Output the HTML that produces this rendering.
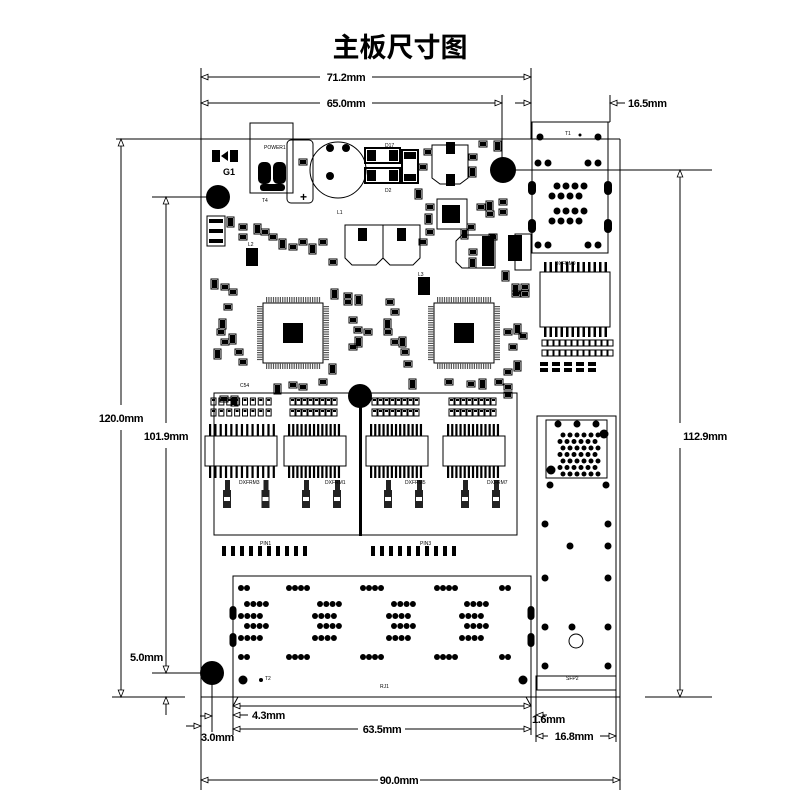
<!DOCTYPE html>
<html><head><meta charset="utf-8"><style>
html,body{margin:0;padding:0;background:#fff;}
svg{display:block;font-family:"Liberation Sans","Noto Sans CJK SC",sans-serif;}
.d{font-size:11px;font-weight:bold;fill:#000;letter-spacing:-0.4px;}
.s{font-size:5px;fill:#000;}
</style></head><body>
<svg id="sv" width="800" height="800" viewBox="0 0 800 800" xmlns="http://www.w3.org/2000/svg">
<defs>
<marker id="a" viewBox="0 0 10 10" refX="10" refY="5" markerWidth="9" markerHeight="7" orient="auto-start-reverse" markerUnits="userSpaceOnUse"><path d="M0,1 L10,5 L0,9 Z" fill="#fff" stroke="#000" stroke-width="1.2"/></marker>
</defs>
<rect width="800" height="800" fill="#fff"/>
<text x="400" y="57" text-anchor="middle" font-size="27" font-weight="bold" font-family="'Noto Sans CJK SC',sans-serif">主板尺寸图</text>

<g stroke="#000" stroke-width="1" fill="none">
<line x1="201" y1="68" x2="201" y2="790"/>
<line x1="531" y1="68" x2="531" y2="139"/>
<line x1="620" y1="139" x2="620" y2="790"/>
<line x1="502" y1="95" x2="502" y2="170"/>
<line x1="610" y1="95" x2="610" y2="122"/>
<line x1="531" y1="122" x2="610" y2="122"/>
<line x1="116" y1="139" x2="620" y2="139"/>
<line x1="112" y1="697" x2="185" y2="697"/>
<line x1="201" y1="697" x2="620" y2="697"/>
<line x1="645" y1="697" x2="712" y2="697"/>
<line x1="152" y1="197" x2="218" y2="197"/>
<line x1="152" y1="673" x2="212" y2="673"/>
<line x1="503" y1="170" x2="712" y2="170"/>
<line x1="212" y1="673" x2="212" y2="732"/>
<line x1="233" y1="697" x2="233" y2="735"/>
<line x1="531" y1="697" x2="531" y2="735"/>
<line x1="536" y1="690" x2="536" y2="742"/>
<line x1="616" y1="690" x2="616" y2="742"/>
<line x1="233" y1="706" x2="238" y2="697"/>
<line x1="531" y1="706" x2="526" y2="697"/>
<line x1="201" y1="77" x2="320" y2="77" marker-start="url(#a)"/><line x1="372" y1="77" x2="531" y2="77" marker-end="url(#a)"/>
<line x1="201" y1="103" x2="320" y2="103" marker-start="url(#a)"/><line x1="372" y1="103" x2="502" y2="103" marker-end="url(#a)"/>
<line x1="515" y1="103" x2="531" y2="103" marker-end="url(#a)"/>
<line x1="625" y1="103" x2="610" y2="103" marker-end="url(#a)"/>
<line x1="121" y1="139" x2="121" y2="405" marker-start="url(#a)"/><line x1="121" y1="430" x2="121" y2="697" marker-end="url(#a)"/>
<line x1="166" y1="197" x2="166" y2="423" marker-start="url(#a)"/><line x1="166" y1="448" x2="166" y2="673" marker-end="url(#a)"/>
<line x1="166" y1="715" x2="166" y2="697" marker-end="url(#a)"/>
<line x1="680" y1="170" x2="680" y2="423" marker-start="url(#a)"/><line x1="680" y1="448" x2="680" y2="697" marker-end="url(#a)"/>
<line x1="233" y1="706" x2="531" y2="706" marker-start="url(#a)" marker-end="url(#a)"/>
<line x1="248" y1="715" x2="233" y2="715" marker-end="url(#a)"/>
<line x1="200" y1="716" x2="212" y2="716" marker-end="url(#a)"/>
<line x1="186" y1="726" x2="201" y2="726" marker-end="url(#a)"/>
<line x1="233" y1="729" x2="358" y2="729" marker-start="url(#a)"/><line x1="405" y1="729" x2="531" y2="729" marker-end="url(#a)"/>
<line x1="547" y1="715" x2="536" y2="715" marker-end="url(#a)"/>
<line x1="536" y1="736" x2="548" y2="736" marker-start="url(#a)"/><line x1="600" y1="736" x2="616" y2="736" marker-end="url(#a)"/>
<line x1="201" y1="780" x2="378" y2="780" marker-start="url(#a)"/><line x1="420" y1="780" x2="620" y2="780" marker-end="url(#a)"/>
</g>
<text class="d" x="346" y="81" text-anchor="middle">71.2mm</text>
<text class="d" x="346" y="107" text-anchor="middle">65.0mm</text>
<text class="d" x="628" y="107">16.5mm</text>
<text class="d" x="121" y="422" text-anchor="middle">120.0mm</text>
<text class="d" x="166" y="440" text-anchor="middle">101.9mm</text>
<text class="d" x="705" y="440" text-anchor="middle">112.9mm</text>
<text class="d" x="130" y="661">5.0mm</text>
<text class="d" x="252" y="719">4.3mm</text>
<text class="d" x="201" y="741">3.0mm</text>
<text class="d" x="382" y="733" text-anchor="middle">63.5mm</text>
<text class="d" x="532" y="723">1.6mm</text>
<text class="d" x="574" y="740" text-anchor="middle">16.8mm</text>
<text class="d" x="399" y="784" text-anchor="middle">90.0mm</text>

<g stroke="#000" fill="none" stroke-width="1">
<rect x="250" y="123" width="43" height="70"/>
<rect x="287" y="140" width="26" height="63" rx="4"/>
<circle cx="338" cy="170" r="28"/>
<rect x="365" y="148" width="35" height="15" stroke-width="2"/>
<rect x="365" y="168" width="35" height="15" stroke-width="2"/>
<rect x="402" y="150" width="16" height="33" stroke-width="2"/>
<path d="M432,145 H468 V178 L460,184 H440 L432,178 Z"/>
<path d="M345,225 H383 V258 L376,265 H352 L345,258 Z"/>
<path d="M383,225 H420 V258 L413,265 H390 L383,258 Z"/>
<rect x="437" y="199" width="30" height="30"/>
<path d="M462,235 H495 V268 H462 L456,262 V241 Z"/>
<rect x="263" y="303" width="60" height="60"/>
<rect x="434" y="303" width="60" height="60"/>
<rect x="540" y="272" width="70" height="55"/>
<rect x="532" y="122" width="76" height="131"/>
<rect x="214" y="393" width="303" height="142"/>
<rect x="537" y="416" width="79" height="274"/>
<rect x="546" y="420" width="61" height="58"/>
<rect x="233" y="576" width="298" height="121"/>
<rect x="536" y="676" width="80" height="14"/>
<circle cx="576" cy="641" r="7"/>
<rect x="205" y="436" width="72" height="30"/>
<rect x="284" y="436" width="62" height="30"/>
<rect x="366" y="436" width="62" height="30"/>
<rect x="443" y="436" width="62" height="30"/>
<rect x="515" y="234" width="16" height="36"/>
<rect x="207" y="216" width="18" height="30"/>
</g>
<g fill="#000">
<circle cx="218" cy="197" r="12"/>
<circle cx="503" cy="170" r="13"/>
<circle cx="360" cy="396" r="12"/>
<circle cx="212" cy="673" r="12"/>
<rect x="283" y="323" width="20" height="20"/>
<rect x="454" y="323" width="20" height="20"/>
<rect x="359" y="396" width="3" height="140"/>
<rect x="212" y="150" width="8" height="12"/><rect x="230" y="150" width="8" height="12"/>
<path d="M221,156 L228,151 L228,161 Z"/>
<rect x="258" y="162" width="13" height="22" rx="5"/><rect x="273" y="162" width="13" height="22" rx="5"/>
<rect x="260" y="184" width="25" height="7" rx="3"/>
<rect x="367" y="150" width="9" height="11"/><rect x="389" y="150" width="9" height="11"/>
<rect x="367" y="170" width="9" height="11"/><rect x="389" y="170" width="9" height="11"/>
<rect x="404" y="152" width="12" height="7"/><rect x="404" y="174" width="12" height="7"/>
<rect x="446" y="142" width="9" height="12"/><rect x="446" y="174" width="9" height="12"/>
<rect x="358" y="228" width="9" height="13"/><rect x="397" y="228" width="9" height="13"/>
<rect x="442" y="205" width="18" height="18"/>
<rect x="482" y="236" width="12" height="30"/>
<rect x="418" y="277" width="12" height="18"/><rect x="246" y="248" width="12" height="18"/>
<rect x="209" y="219" width="14" height="4"/><rect x="209" y="229" width="14" height="4"/><rect x="209" y="239" width="14" height="4"/>
<rect x="508" y="235" width="14" height="26"/>
<circle cx="330" cy="148" r="4"/><circle cx="330" cy="176" r="4"/><circle cx="346" cy="148" r="4"/>
</g>
<g id="gen"></g>
<g class="s">
<text x="229" y="175" font-size="9" font-weight="bold" text-anchor="middle">G1</text>
<text x="264" y="149">POWER1</text><text x="262" y="202">T4</text>
<text x="385" y="147">D17</text><text x="385" y="192">D2</text>
<text x="337" y="214">L1</text><text x="260" y="545">PIN1</text><text x="420" y="545">PIN3</text>
<text x="239" y="484">DXFRM3</text><text x="325" y="484">DXFRM1</text><text x="405" y="484">DXFRM5</text><text x="487" y="484">DXFRM7</text>
<text x="555" y="265">DXFRM9</text><text x="565" y="135">T1</text>
<text x="380" y="688">RJ1</text><text x="265" y="680">T2</text><text x="566" y="680">SFP2</text>
<text x="240" y="387">C54</text><text x="418" y="276">L3</text><text x="248" y="246">L2</text>
</g>
<text x="300" y="201" font-size="12" font-weight="bold">+</text>
</svg>
<script>
var g=document.getElementById('gen'),N='http://www.w3.org/2000/svg';
function e(t,a){var el=document.createElementNS(N,t);for(var k in a)el.setAttribute(k,a[k]);g.appendChild(el);return el;}
function dot(x,y,r){e('circle',{cx:x,cy:y,r:r,fill:'#000'});}
function rc(x,y,w,h,f){e('rect',{x:x,y:y,width:w,height:h,fill:f||'#000'});}
function orc(x,y,w,h){e('rect',{x:x,y:y,width:w,height:h,fill:'none',stroke:'#000','stroke-width':1});}
[[263,303],[434,303]].forEach(function(p){var x=p[0],y=p[1];
for(var i=0;i<24;i++){var o=3+i*2.3;rc(x+o,y-6,1.2,6,'#555');rc(x+o,y+60,1.2,6,'#555');rc(x-6,y+o,6,1.2,'#555');rc(x+60,y+o,6,1.2,'#555');}});
for(var i=0;i<12;i++){rc(544+i*5.5,262,2.5,10);rc(544+i*5.5,327,2.5,10);}
for(var i=0;i<12;i++){orc(542+i*6,340,5,6);orc(542+i*6,350,5,6);}
[[205,77],[284,62],[366,62],[443,62]].forEach(function(m){var x=m[0],w=m[1];
for(var i=0;i<13;i++){var xx=x+4+i*(w-8)/13;rc(xx,424,2.2,12);rc(xx,466,2.2,12);}
for(var i=0;i<8;i++){var xx=x+6+i*(w-14)/8;orc(xx,398,5,7);orc(xx,409,5,7);rc(xx+1,399,3,2);rc(xx+1,410,3,2);}
for(var j=0;j<2;j++){var xx=x+18+j*(w/2);rc(xx,490,8,18,'#222');rc(xx+1,497,6,4,'#fff');rc(xx+2,480,5,10,'#222');}
});
for(var i=0;i<10;i++){rc(222+i*9,546,4,10);rc(371+i*9,546,4,10);}
function row(x0,y,n,dx){for(var i=0;i<n;i++)dot(x0+i*dx,y,3);}
row(241,588,2,6);[289,363,437].forEach(function(x){row(x,588,4,6);});row(502,588,2,6);
[247,320,394,467].forEach(function(x){row(x,604,4,6.3);row(x,626,4,6.3);});
[241,315,389,462].forEach(function(x){row(x,616,4,6.3);row(x,638,4,6.3);});
row(241,657,2,6);[289,363,437].forEach(function(x){row(x,657,4,6);});row(502,657,2,6);
dot(243,680,4.5);dot(523,680,4.5);dot(261,680,2);
[[233,613],[233,640],[531,613],[531,640]].forEach(function(p){e('rect',{x:p[0]-3.5,y:p[1]-7,width:7,height:14,rx:3.5,fill:'#000'});});
[[545,524],[608,524],[545,578],[608,578],[545,627],[608,627],[572,627],[570,546],[608,546],[545,666],[608,666],[550,485],[606,485]].forEach(function(p){dot(p[0],p[1],3.5);});
dot(558,424,3.5);dot(577,424,3.5);dot(596,424,3.5);dot(604,434,4.5);dot(551,470,4.5);
for(var r=0;r<7;r++)for(var c=0;c<6;c++)dot(560+c*7+(r%2?0:3),435+r*6.5,2.5);
[[540,137],[598,137],[538,163],[548,163],[588,163],[598,163],[538,245],[548,245],[588,245],[598,245]].forEach(function(p){dot(p[0],p[1],3.5);});
dot(580,135,1.5);
for(var r=0;r<4;r++)for(var c=0;c<4;c++)dot(552+c*9+(r%2?0:5),186+r*10+(r>1?5:0),3.5);
[[532,188],[532,226],[608,188],[608,226]].forEach(function(p){e('rect',{x:p[0]-4,y:p[1]-7,width:8,height:14,rx:4,fill:'#000'});});
var parts=[[228,218],[240,225],[240,235],[255,225],[262,230],[270,235],[280,240],[290,245],[300,240],[310,245],[320,240],[330,260],[332,290],[345,300],[345,294],[356,296],[350,318],[355,328],[356,338],[350,345],[365,330],[330,365],[320,380],[300,385],[275,385],[290,383],[225,305],[220,320],[218,330],[222,340],[230,335],[236,350],[240,360],[215,350],[230,290],[222,285],[212,280],[387,300],[392,310],[385,320],[385,330],[392,340],[400,338],[402,350],[405,362],[410,380],[446,380],[468,382],[480,380],[496,380],[505,370],[515,362],[510,345],[505,330],[515,325],[520,334],[513,292],[513,285],[522,292],[522,285],[503,272],[490,235],[470,250],[470,259],[468,225],[478,205],[487,202],[487,212],[427,205],[426,215],[427,230],[420,240],[462,230],[505,385],[505,393],[232,397],[221,397],[300,160],[416,190],[420,165],[425,150],[470,168],[470,155],[480,142],[495,142],[500,200],[500,210]];
parts.forEach(function(p,i){var w=i%3?6:5,h=i%3?4:8;rc(p[0],p[1],w,h);orc(p[0]-1,p[1]-1,w+2,h+2);});
for(var i=0;i<5;i++){rc(540+i*12,362,8,4);rc(540+i*12,368,8,4);}
</script>
</body></html>
